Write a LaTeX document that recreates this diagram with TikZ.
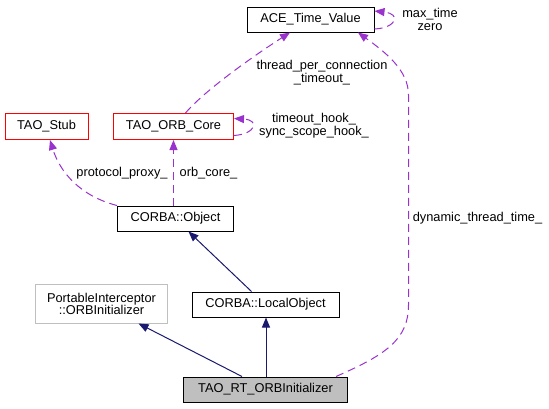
\documentclass[tikz,border=0pt]{standalone}
\usepackage{fontspec}
\setmainfont{Liberation Sans}
\usetikzlibrary{arrows.meta,calc}
\definecolor{edgepurple}{RGB}{154,50,205}
\definecolor{navyblue}{RGB}{25,25,112}
\definecolor{boxred}{RGB}{255,0,0}
\definecolor{boxgray}{RGB}{191,191,191}
\begin{document}
\begin{tikzpicture}[x=1pt,y=-1pt,
  every node/.style={font=\fontsize{12.8}{14}\selectfont},
  cls/.style={draw=black,line width=1pt,inner sep=0pt,align=center,fill=white},
  redcls/.style={draw=red,line width=1pt,inner sep=0pt,align=center,fill=white},
  graycls/.style={cls,draw=boxgray},
  maincls/.style={cls,fill=boxgray},
  lbl/.style={inner sep=0pt,align=center},
  inh/.style={draw=navyblue,line width=1pt,-{Triangle[length=10pt,width=8pt]}},
  use/.style={draw=edgepurple,line width=1pt,dash pattern=on 8pt off 5pt,-{Triangle[length=10pt,width=8pt]}}
]
\useasboundingbox (0,0) rectangle (549,408);

\node[cls,minimum width=127pt,minimum height=25pt] (ace) at (310.5,19.5) {ACE\_Time\_Value};
\node[redcls,minimum width=83pt,minimum height=26pt] (stub) at (46.5,126.5) {TAO\_Stub};
\node[redcls,minimum width=120pt,minimum height=26pt] (orb) at (173.5,126.5) {TAO\_ORB\_Core};
\node[cls,minimum width=116pt,minimum height=25pt] (obj) at (175.5,218.5) {CORBA::Object};
\node[graycls,minimum width=132pt,minimum height=39pt] (pi) at (101.5,303.5) {PortableInterceptor\\[-2pt]::ORBInitializer};
\node[cls,minimum width=147pt,minimum height=25pt] (lo) at (265.5,304.5) {CORBA::LocalObject};
\node[maincls,minimum width=164pt,minimum height=25pt] (rt) at (265.5,389.5) {TAO\_RT\_ORBInitializer};

% usage
\draw[use] (orb.south |- obj.north) -- (orb.south);
\draw[use] (obj.north west) .. controls (80,196) and (60,172) .. ($(stub.south)+(3.5,0)$);
\draw[use] ($(orb.north)+(12,0)$) .. controls (205,90) and (255,55) .. ($(ace.south)+(-20.5,0)$);
\draw[use] ($(rt.north east)+(-12,0)$) .. controls (385,355) and (408.5,340) .. (408.5,305)
   -- (408.5,95) .. controls (408.5,70) and (385,52) .. ($(ace.south)+(47.5,0)$);
\draw[use] ($(ace.east)+(0,9.5)$) .. controls (396,28) and (402,14) .. ($(ace.east)+(0,-8.5)$);
\draw[use] ($(orb.east)+(0,9)$) .. controls (256,134) and (260,120) .. ($(orb.east)+(0,-8)$);

% inheritance
\draw[inh] ($(rt.north)+(0.5,0)$) -- ($(lo.south)+(0.5,0)$);
\draw[inh] ($(rt.north west)+(59,0)$) -- ($(pi.south)+(37,0)$);
\draw[inh] ($(lo.north west)+(60,0)$) -- ($(obj.south)+(13,0)$);

% labels
\node[lbl] (l1) at (430,19) {max\_time\\[-1pt]zero};
\node[lbl] (l2) at (322,72.5) {thread\_per\_connection\\[-1pt]\_timeout\_};
\node[lbl] (l3) at (314,125.5) {timeout\_hook\_\\[-1pt]sync\_scope\_hook\_};
\node[lbl] (l4) at (122,173) {protocol\_proxy\_};
\node[lbl] (l5) at (208.5,173) {orb\_core\_};
\node[lbl] (l6) at (477.5,218) {dynamic\_thread\_time\_};
\end{tikzpicture}
\end{document}
